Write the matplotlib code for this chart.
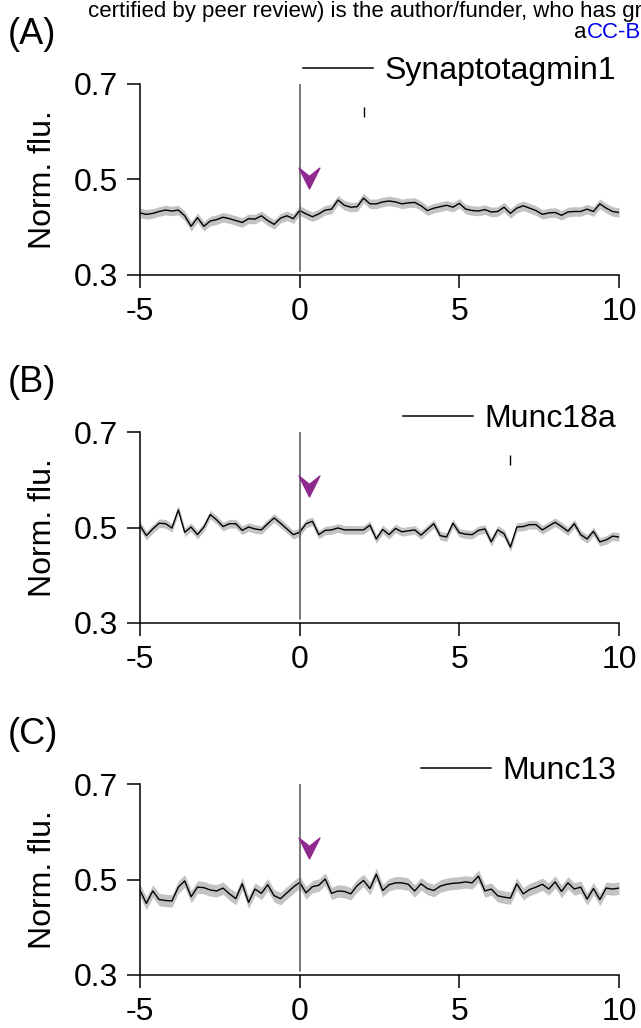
import matplotlib
matplotlib.use("Agg")
import matplotlib.pyplot as plt
import numpy as np
from matplotlib.path import Path
from matplotlib.lines import Line2D

plt.rcParams["font.family"] = ["Liberation Sans", "DejaVu Sans"]

# time axis (s), sampled every 0.2 s
time_s = np.arange(76) * 0.2 - 5

syt1 = [0.430, 0.427, 0.429, 0.433, 0.436, 0.434, 0.436, 0.424, 0.402, 0.420,
        0.402, 0.413, 0.416, 0.421, 0.418, 0.414, 0.410, 0.418, 0.417, 0.424,
        0.414, 0.406, 0.419, 0.424, 0.418, 0.435, 0.428, 0.422, 0.428, 0.436,
        0.438, 0.457, 0.446, 0.442, 0.443, 0.461, 0.449, 0.449, 0.453, 0.455,
        0.453, 0.449, 0.451, 0.452, 0.445, 0.435, 0.440, 0.443, 0.446, 0.442,
        0.450, 0.438, 0.435, 0.434, 0.437, 0.432, 0.433, 0.442, 0.429, 0.440,
        0.445, 0.440, 0.435, 0.427, 0.430, 0.431, 0.425, 0.432, 0.433, 0.433,
        0.438, 0.433, 0.449, 0.440, 0.433, 0.431]

munc18a = [0.504, 0.483, 0.497, 0.509, 0.508, 0.499, 0.537, 0.490, 0.501, 0.485,
           0.501, 0.527, 0.516, 0.502, 0.508, 0.508, 0.494, 0.501, 0.497, 0.495,
           0.508, 0.520, 0.509, 0.497, 0.485, 0.490, 0.508, 0.513, 0.485, 0.494,
           0.495, 0.499, 0.495, 0.495, 0.495, 0.495, 0.505, 0.476, 0.496, 0.485,
           0.498, 0.491, 0.493, 0.495, 0.484, 0.496, 0.508, 0.483, 0.480, 0.509,
           0.489, 0.486, 0.485, 0.494, 0.497, 0.470, 0.495, 0.487, 0.459, 0.501,
           0.502, 0.506, 0.506, 0.495, 0.503, 0.511, 0.502, 0.492, 0.508, 0.485,
           0.476, 0.492, 0.470, 0.474, 0.482, 0.480]

munc13 = [0.477, 0.450, 0.476, 0.458, 0.456, 0.455, 0.484, 0.497, 0.464, 0.484,
          0.483, 0.478, 0.476, 0.482, 0.470, 0.460, 0.491, 0.452, 0.480, 0.471,
          0.489, 0.466, 0.460, 0.472, 0.484, 0.494, 0.472, 0.485, 0.488, 0.501,
          0.471, 0.476, 0.475, 0.470, 0.487, 0.498, 0.481, 0.511, 0.477, 0.489,
          0.493, 0.493, 0.490, 0.476, 0.491, 0.481, 0.477, 0.486, 0.490, 0.492,
          0.493, 0.495, 0.493, 0.507, 0.476, 0.480, 0.466, 0.463, 0.461, 0.491,
          0.470, 0.479, 0.484, 0.490, 0.480, 0.495, 0.475, 0.493, 0.480, 0.484,
          0.459, 0.481, 0.458, 0.482, 0.480, 0.482]

# half width of the grey s.e.m. band
sem = [0.010, 0.009, 0.013]

names = ["Synaptotagmin1", "Munc18a", "Munc13"]
panel_labels = ["(A)", "(B)", "(C)"]
series = [syt1, munc18a, munc13]

# stimulus arrowhead (time, value)
arrow_t = [0.28, 0.28, 0.28]
arrow_y = [0.503, 0.586, 0.565]

# stray tick marks left in the original figure
stray_t = [2.0, 6.6, None]

x_ticks = [-5, 0, 5, 10]
y_ticks = [0.3, 0.5, 0.7]

W, H = 641, 1028
fig = plt.figure(figsize=(W / 100, H / 100), dpi=100)

# downward chevron used for the stimulus mark
chevron = Path([(-1, 1), (0, -1), (1, 1), (0, 0.2), (-1, 1)],
               [Path.MOVETO, Path.LINETO, Path.LINETO, Path.LINETO, Path.CLOSEPOLY])

tops = [84, 432, 784]
ax_h = 191
left, right = 140, 619

for k in range(3):
    top = tops[k]
    ax = fig.add_axes([left / W, 1 - (top + ax_h) / H, (right - left) / W, ax_h / H])
    y = np.array(series[k])

    ax.fill_between(time_s, y - sem[k], y + sem[k], color="#c3c3c3", lw=0)
    ax.plot(time_s, y, color="black", lw=1.0)
    ax.axvline(0, ymin=0.02, ymax=1.0, color="#555555", lw=1.1)
    ax.plot([arrow_t[k]], [arrow_y[k]], marker=chevron, ms=15,
            color="#8e2a8e", mec="#8e2a8e", ls="none")
    if stray_t[k] is not None:
        ax.vlines(stray_t[k], 0.631, 0.652, color="black", lw=1)

    ax.set_xlim(-5, 10)
    ax.set_ylim(0.3, 0.7)
    ax.set_xticks(x_ticks)
    ax.set_xticklabels([str(v) for v in x_ticks])
    ax.set_yticks(y_ticks)
    ax.set_yticklabels([f"{v:.1f}" for v in y_ticks])
    for s in ["top", "right"]:
        ax.spines[s].set_visible(False)
    for s in ["left", "bottom"]:
        ax.spines[s].set_linewidth(1.1)
    ax.tick_params(direction="out", length=9.5, width=1.1, labelsize=23, pad=6)
    ax.set_ylabel("Norm. flu.", fontsize=23, labelpad=12)
    ax.patch.set_alpha(0)

    ax.legend([Line2D([], [], color="black", lw=1.1)], [names[k]],
              loc="center right", bbox_to_anchor=(0.994, 1.068),
              frameon=False, fontsize=23, handlelength=2.2,
              handletextpad=0.35, borderpad=0, borderaxespad=0)

    fig.text(8 / W, 1 - (top - 49) / H, panel_labels[k], fontsize=26,
             ha="left", va="center")

# bioRxiv header, cut off by the page edge in the original
fig.text(88 / W, 1 - 12 / H,
         "certified by peer review) is the author/funder, who has gr",
         fontsize=16, ha="left", va="center")
fig.text(574 / W, 1 - 32 / H, "a", fontsize=16, ha="left", va="center")
fig.text(587 / W, 1 - 32 / H, "CC-B", fontsize=16,
         ha="left", va="center", color="#0000ee")

fig.savefig("out.png", dpi=100)
